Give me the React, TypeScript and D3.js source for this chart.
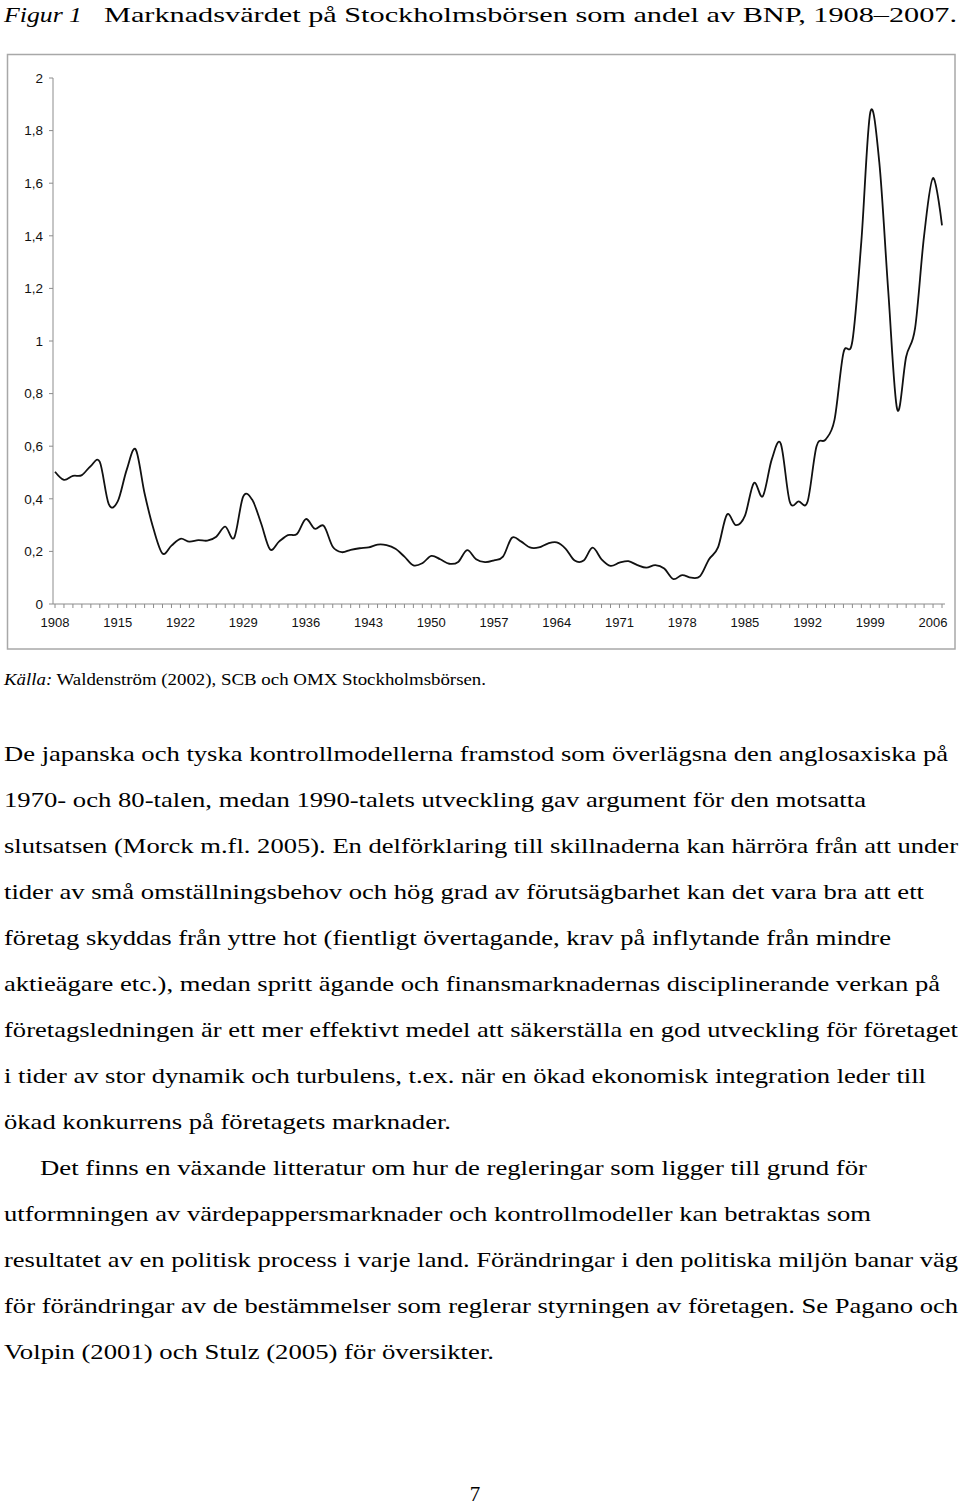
import React from "react";
import * as d3 from "d3";

// ---- chart data ----
const years: number[] = [
  1908, 1909, 1910, 1911, 1912, 1913, 1914, 1915, 1916, 1917,
  1918, 1919, 1920, 1921, 1922, 1923, 1924, 1925, 1926, 1927,
  1928, 1929, 1930, 1931, 1932, 1933, 1934, 1935, 1936, 1937,
  1938, 1939, 1940, 1941, 1942, 1943, 1944, 1945, 1946, 1947,
  1948, 1949, 1950, 1951, 1952, 1953, 1954, 1955, 1956, 1957,
  1958, 1959, 1960, 1961, 1962, 1963, 1964, 1965, 1966, 1967,
  1968, 1969, 1970, 1971, 1972, 1973, 1974, 1975, 1976, 1977,
  1978, 1979, 1980, 1981, 1982, 1983, 1984, 1985, 1986, 1987,
  1988, 1989, 1990, 1991, 1992, 1993, 1994, 1995, 1996, 1997,
  1998, 1999, 2000, 2001, 2002, 2003, 2004, 2005, 2006, 2007,
];

const marketValueShare: number[] = [
  0.503, 0.472, 0.487, 0.49, 0.525, 0.54, 0.38, 0.39, 0.51, 0.588,
  0.42, 0.285, 0.192, 0.222, 0.248, 0.237, 0.243, 0.241, 0.256, 0.294,
  0.252, 0.408, 0.397, 0.307, 0.208, 0.237, 0.262, 0.266, 0.323, 0.286,
  0.297, 0.218, 0.197, 0.206, 0.212, 0.215, 0.226, 0.224, 0.21, 0.18,
  0.147, 0.155, 0.183, 0.17, 0.153, 0.16, 0.205, 0.17, 0.159, 0.166,
  0.18, 0.252, 0.238, 0.215, 0.215, 0.23, 0.234, 0.21, 0.165, 0.165,
  0.214, 0.17, 0.145, 0.157, 0.163, 0.148, 0.138, 0.148, 0.135, 0.095,
  0.11, 0.1, 0.106, 0.17, 0.215, 0.34, 0.3, 0.335, 0.46, 0.41,
  0.55, 0.61, 0.39, 0.39, 0.39, 0.6, 0.625, 0.7, 0.955, 1.0,
  1.38, 1.87, 1.68, 1.19, 0.74, 0.94, 1.05, 1.4, 1.62, 1.44,
];

const xTickLabels: string[] = [
  "1908", "1915", "1922", "1929", "1936", "1943", "1950", "1957",
  "1964", "1971", "1978", "1985", "1992", "1999", "2006",
];

const yTickValues: number[] = [0, 0.2, 0.4, 0.6, 0.8, 1, 1.2, 1.4, 1.6, 1.8, 2];
const yTickLabels: string[] = ["0", "0,2", "0,4", "0,6", "0,8", "1", "1,2", "1,4", "1,6", "1,8", "2"];

// ---- page text ----
const titleLabel = "Figur 1";
const titleText = "Marknadsvärdet på Stockholmsbörsen som andel av BNP, 1908–2007.";
const sourceLabel = "Källa:";
const sourceText = " Waldenström (2002), SCB och OMX Stockholmsbörsen.";

const bodyLines: { text: string; x: number; w: number }[] = [
  { text: "De japanska och tyska kontrollmodellerna framstod som överlägsna den anglosaxiska på", x: 4, w: 944 },
  { text: "1970- och 80-talen, medan 1990-talets utveckling gav argument för den motsatta", x: 4, w: 862 },
  { text: "slutsatsen (Morck m.fl. 2005). En delförklaring till skillnaderna kan härröra från att under", x: 4, w: 954 },
  { text: "tider av små omställningsbehov och hög grad av förutsägbarhet kan det vara bra att ett", x: 4, w: 920 },
  { text: "företag skyddas från yttre hot (fientligt övertagande, krav på inflytande från mindre", x: 4, w: 887 },
  { text: "aktieägare etc.), medan spritt ägande och finansmarknadernas disciplinerande verkan på", x: 4, w: 936 },
  { text: "företagsledningen är ett mer effektivt medel att säkerställa en god utveckling för företaget", x: 4, w: 954 },
  { text: "i tider av stor dynamik och turbulens, t.ex. när en ökad ekonomisk integration leder till", x: 4, w: 922 },
  { text: "ökad konkurrens på företagets marknader.", x: 4, w: 447 },
  { text: "Det finns en växande litteratur om hur de regleringar som ligger till grund för", x: 40, w: 827 },
  { text: "utformningen av värdepappersmarknader och kontrollmodeller kan betraktas som", x: 4, w: 867 },
  { text: "resultatet av en politisk process i varje land. Förändringar i den politiska miljön banar väg", x: 4, w: 954 },
  { text: "för förändringar av de bestämmelser som reglerar styrningen av företagen. Se Pagano och", x: 4, w: 954 },
  { text: "Volpin (2001) och Stulz (2005) för översikter.", x: 4, w: 490 },
];

const SERIF = "Liberation Serif";
const SANS = "Liberation Sans";

export default function App() {
  const W = 960;
  const H = 1508;

  const x = d3.scaleLinear().domain([1908, 2007]).range([55, 942]);
  const y = d3.scaleLinear().domain([0, 2]).range([604, 78]);

  const line = d3
    .line<number>()
    .x((_, i) => x(years[i]))
    .y((d) => y(d))
    .curve(d3.curveCardinal.tension(0));

  const pathD = line(marketValueShare) || "";
  const axisColor = "#8c8c8c";
  const axisX0 = 53;
  const axisX1 = 945;

  return (
    <svg
      width={W}
      height={H}
      viewBox={`0 0 ${W} ${H}`}
      style={{ position: "absolute", left: 0, top: 0, background: "#fff", display: "block" }}
    >
      <rect x={0} y={0} width={W} height={H} fill="#fff" />

      {/* Title */}
      <text x={4} y={22} style={{ fontFamily: SERIF }} fontSize={21.5} fontStyle="italic" textLength={78} lengthAdjust="spacingAndGlyphs">
        {titleLabel}
      </text>
      <text x={104} y={22} style={{ fontFamily: SERIF }} fontSize={21.5} textLength={853} lengthAdjust="spacingAndGlyphs">
        {titleText}
      </text>

      {/* Chart frame */}
      <rect x={7.5} y={54.5} width={947.5} height={594.5} fill="none" stroke="#a8a8a8" strokeWidth={1.5} />

      {/* Y axis */}
      <line x1={axisX0} x2={axisX0} y1={y(0)} y2={y(2)} stroke={axisColor} strokeWidth={1} />
      {yTickValues.map((v, i) => (
        <g key={"yt" + i}>
          <line x1={axisX0 - 4} x2={axisX0} y1={y(v)} y2={y(v)} stroke={axisColor} strokeWidth={1} />
          <text
            x={43}
            y={y(v)}
            dy="0.35em"
            textAnchor="end"
            style={{ fontFamily: SANS }}
            fontSize={13.5}
            fill="#111"
          >
            {yTickLabels[i]}
          </text>
        </g>
      ))}

      {/* X axis */}
      <line x1={axisX0} x2={axisX1} y1={y(0)} y2={y(0)} stroke={axisColor} strokeWidth={1} />
      {years.map((yr) => (
        <line key={"xt" + yr} x1={x(yr)} x2={x(yr)} y1={y(0)} y2={y(0) + 4} stroke={axisColor} strokeWidth={1} />
      ))}
      {xTickLabels.map((lab) => (
        <text
          key={"xl" + lab}
          x={x(+lab)}
          y={627}
          textAnchor="middle"
          style={{ fontFamily: SANS }}
          fontSize={13}
          fill="#111"
        >
          {lab}
        </text>
      ))}

      {/* Data line */}
      <path d={pathD} fill="none" stroke="#111" strokeWidth={1.8} strokeLinejoin="round" />

      {/* Source */}
      <text x={4} y={685} style={{ fontFamily: SERIF }} fontSize={17} textLength={482} lengthAdjust="spacingAndGlyphs">
        <tspan fontStyle="italic">{sourceLabel}</tspan>
        {sourceText}
      </text>

      {/* Body text */}
      {bodyLines.map((ln, i) => (
        <text
          key={"b" + i}
          x={ln.x}
          y={760.7 + i * 46}
          style={{ fontFamily: SERIF }}
          fontSize={22}
          textLength={ln.w}
          lengthAdjust="spacingAndGlyphs"
        >
          {ln.text}
        </text>
      ))}

      {/* Page number */}
      <text x={475} y={1501} textAnchor="middle" style={{ fontFamily: SERIF }} fontSize={21}>
        7
      </text>
    </svg>
  );
}
